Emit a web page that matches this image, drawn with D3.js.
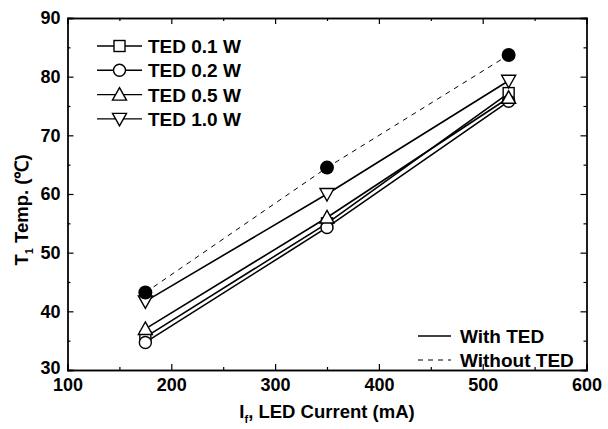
<!DOCTYPE html>
<html><head><meta charset="utf-8">
<script src="https://cdn.jsdelivr.net/npm/d3@7"></script>
<style>body{margin:0;background:#fff}svg{display:block;font-family:"Liberation Sans",Arial,sans-serif;font-weight:bold}</style>
</head><body>
<svg id="c" width="608" height="429"></svg>
<script>
const currents = [175, 350, 525];
const ted01 = [35.6, 55.0, 77.2];
const ted02 = [34.7, 54.3, 75.8];
const ted05 = [37.0, 56.0, 76.4];
const ted10 = [41.7, 60.0, 79.3];
const noTed = [43.2, 64.5, 83.7];
const seriesNames = ["TED 0.1 W", "TED 0.2 W", "TED 0.5 W", "TED 1.0 W"];
const seriesSymbols = ["square", "circle", "up", "down"];
const xTicks = [100, 200, 300, 400, 500, 600];
const yTicks = [30, 40, 50, 60, 70, 80, 90];
const bottomLegend = ["With TED", "Without TED"];

const svg = d3.select("#c");
const L = 67.5, R = 586.5, T = 18, B = 370;
const x = d3.scaleLinear().domain([100, 600]).range([L, R]);
const y = d3.scaleLinear().domain([30, 90]).range([B, T]);

const minorX = d3.range(150, 600, 100);
const minorY = d3.range(35, 90, 10);
function drawAxes() {
  const g = svg.append("g");
  const ax = g.append("g").attr("transform", `translate(0,${B})`)
    .call(d3.axisBottom(x).tickValues(xTicks).tickSize(-6).tickPadding(8).tickFormat(d3.format("d")));
  ax.append("g").call(d3.axisBottom(x).tickValues(minorX).tickSize(-3).tickFormat(""));
  const at = g.append("g").attr("transform", `translate(0,${T})`)
    .call(d3.axisTop(x).tickValues(xTicks).tickSize(-6).tickFormat(""));
  at.append("g").call(d3.axisTop(x).tickValues(minorX).tickSize(-3).tickFormat(""));
  const al = g.append("g").attr("transform", `translate(${L},0)`)
    .call(d3.axisLeft(y).tickValues(yTicks).tickSize(-6).tickPadding(7).tickFormat(d3.format("d")));
  al.append("g").call(d3.axisLeft(y).tickValues(minorY).tickSize(-3).tickFormat(""));
  const ar = g.append("g").attr("transform", `translate(${R},0)`)
    .call(d3.axisRight(y).tickValues(yTicks).tickSize(-6).tickFormat(""));
  ar.append("g").call(d3.axisRight(y).tickValues(minorY).tickSize(-3).tickFormat(""));
  g.selectAll(".domain").attr("stroke", "#000").attr("stroke-width", 1.3);
  g.selectAll(".tick line").attr("stroke", "#000").attr("stroke-width", 1.2);
  g.selectAll(".tick text").attr("fill", "#000").style("font-size", "18px").style("font-weight", "bold")
    .style("font-family", '"Liberation Sans",Arial,sans-serif');
  // lift the lowest y label slightly so it clears the first x label
  al.selectAll(".tick").filter(d => d === 30).select("text").attr("dy", "0.2em");
}
drawAxes();

const line = d3.line().x(d => x(d[0])).y(d => y(d[1]));
const allSeries = [ted01, ted02, ted05, ted10];

svg.append("path").datum(currents.map((c, i) => [c, noTed[i]]))
  .attr("d", line).attr("fill", "none").attr("stroke", "#000").attr("stroke-width", 1)
  .attr("stroke-dasharray", "5,5");

allSeries.forEach(s => {
  svg.append("path").datum(currents.map((c, i) => [c, s[i]]))
    .attr("d", line).attr("fill", "none").attr("stroke", "#000").attr("stroke-width", 1.6);
});

function marker(g, type, cx, cy) {
  let el;
  if (type === "square") el = g.append("rect").attr("x", cx - 5.5).attr("y", cy - 5.5).attr("width", 11).attr("height", 11);
  else if (type === "circle") el = g.append("circle").attr("cx", cx).attr("cy", cy).attr("r", 6);
  else if (type === "up") el = g.append("path").attr("d", `M${cx},${cy - 7}L${cx + 7},${cy + 5.5}L${cx - 7},${cy + 5.5}Z`);
  else el = g.append("path").attr("d", `M${cx},${cy + 7}L${cx + 7},${cy - 5.5}L${cx - 7},${cy - 5.5}Z`);
  el.attr("fill", "#fff").attr("stroke", "#000").attr("stroke-width", 1.4);
  return el;
}

const mg = svg.append("g");
allSeries.forEach((s, si) => {
  currents.forEach((c, i) => marker(mg, seriesSymbols[si], x(c), y(s[i])));
});
currents.forEach((c, i) => mg.append("circle").attr("cx", x(c)).attr("cy", y(noTed[i])).attr("r", 7).attr("fill", "#000"));

const lg = svg.append("g");
seriesNames.forEach((n, i) => {
  const yy = 46 + i * 24.3;
  lg.append("line").attr("x1", 97).attr("x2", 142).attr("y1", yy).attr("y2", yy).attr("stroke", "#000").attr("stroke-width", 1.4);
  marker(lg, seriesSymbols[i], 119.5, yy);
  lg.append("text").attr("x", 148).attr("y", yy + 7).attr("font-size", 19).text(n);
});

const bl = svg.append("g");
bottomLegend.forEach((n, i) => {
  const yy = 336 + i * 24;
  bl.append("line").attr("x1", 418).attr("x2", 451).attr("y1", yy).attr("y2", yy).attr("stroke", "#000")
    .attr("stroke-width", i === 0 ? 1.6 : 1).attr("stroke-dasharray", i === 0 ? null : "5,5");
  bl.append("text").attr("x", 460).attr("y", yy + 7).attr("font-size", 19).text(n);
});

const xt = svg.append("text").attr("x", 327).attr("y", 418).attr("text-anchor", "middle").attr("font-size", 18.5);
xt.append("tspan").text("I");
xt.append("tspan").attr("font-size", 11).attr("dy", 5).text("f");
xt.append("tspan").attr("dy", -5).text(", LED Current (mA)");

const yt = svg.append("text").attr("transform", `translate(28,210) rotate(-90)`).attr("text-anchor", "middle").attr("font-size", 18.5);
yt.append("tspan").text("T");
yt.append("tspan").attr("font-size", 11).attr("dy", 5).text("1");
yt.append("tspan").attr("dy", -5).text(" Temp. (℃)");
</script>
</body></html>
